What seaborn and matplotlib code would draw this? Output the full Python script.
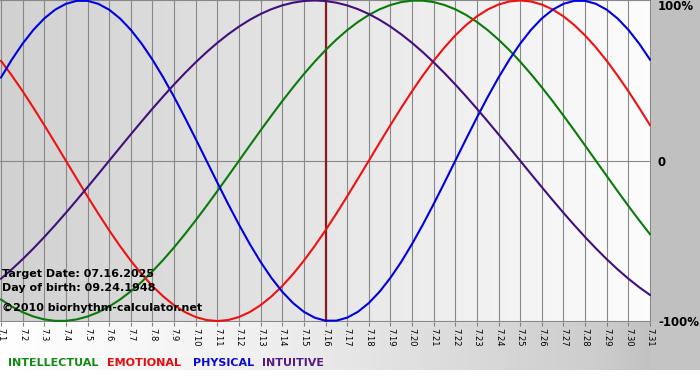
import numpy as np
import pandas as pd
import matplotlib
matplotlib.use("Agg")
import matplotlib.pyplot as plt
import seaborn as sns

# ---- data (half-day resolution) ----
days = list(range(1, 32))
day_labels = [f"7.{d}" for d in days]
half_days = [1 + 0.5 * i for i in range(61)]

physical = [0.5196, 0.6311, 0.7308, 0.8170, 0.8879, 0.9423, 0.9791, 0.9977, 0.9977, 0.9791,
            0.9423, 0.8879, 0.8170, 0.7308, 0.6311, 0.5196, 0.3984, 0.2698, 0.1362, 0.0,
            -0.1362, -0.2698, -0.3984, -0.5196, -0.6311, -0.7308, -0.8170, -0.8879, -0.9423, -0.9791,
            -0.9977, -0.9977, -0.9791, -0.9423, -0.8879, -0.8170, -0.7308, -0.6311, -0.5196, -0.3984,
            -0.2698, -0.1362, 0.0, 0.1362, 0.2698, 0.3984, 0.5196, 0.6311, 0.7308, 0.8170,
            0.8879, 0.9423, 0.9791, 0.9977, 0.9977, 0.9791, 0.9423, 0.8879, 0.8170, 0.7308, 0.6311]
emotional = [0.6235, 0.5320, 0.4339, 0.3303, 0.2225, 0.1120, 0.0, -0.1120, -0.2225, -0.3303,
             -0.4339, -0.5320, -0.6235, -0.7071, -0.7818, -0.8467, -0.9010, -0.9439, -0.9749, -0.9937,
             -1.0, -0.9937, -0.9749, -0.9439, -0.9010, -0.8467, -0.7818, -0.7071, -0.6235, -0.5320,
             -0.4339, -0.3303, -0.2225, -0.1120, 0.0, 0.1120, 0.2225, 0.3303, 0.4339, 0.5320,
             0.6235, 0.7071, 0.7818, 0.8467, 0.9010, 0.9439, 0.9749, 0.9937, 1.0, 0.9937,
             0.9749, 0.9439, 0.9010, 0.8467, 0.7818, 0.7071, 0.6235, 0.5320, 0.4339, 0.3303, 0.2225]
intellectual = [-0.8660, -0.9096, -0.9450, -0.9718, -0.9898, -0.9989, -0.9989, -0.9898, -0.9718, -0.9450,
                -0.9096, -0.8660, -0.8146, -0.7557, -0.6901, -0.6182, -0.5406, -0.4582, -0.3717, -0.2817,
                -0.1893, -0.0951, 0.0, 0.0951, 0.1893, 0.2817, 0.3717, 0.4582, 0.5406, 0.6182,
                0.6901, 0.7557, 0.8146, 0.8660, 0.9096, 0.9450, 0.9718, 0.9898, 0.9989, 0.9989,
                0.9898, 0.9718, 0.9450, 0.9096, 0.8660, 0.8146, 0.7557, 0.6901, 0.6182, 0.5406,
                0.4582, 0.3717, 0.2817, 0.1893, 0.0951, 0.0, -0.0951, -0.1893, -0.2817, -0.3717, -0.4582]
intuitive = [-0.7357, -0.6773, -0.6142, -0.5469, -0.4759, -0.4017, -0.3247, -0.2455, -0.1646, -0.0826,
             0.0, 0.0826, 0.1646, 0.2455, 0.3247, 0.4017, 0.4759, 0.5469, 0.6142, 0.6773,
             0.7357, 0.7891, 0.8372, 0.8794, 0.9158, 0.9458, 0.9694, 0.9864, 0.9966, 1.0,
             0.9966, 0.9864, 0.9694, 0.9458, 0.9158, 0.8794, 0.8372, 0.7891, 0.7357, 0.6773,
             0.6142, 0.5469, 0.4759, 0.4017, 0.3247, 0.2455, 0.1646, 0.0826, 0.0, -0.0826,
             -0.1646, -0.2455, -0.3247, -0.4017, -0.4759, -0.5469, -0.6142, -0.6773, -0.7357, -0.7891, -0.8372]

series_names = ["INTELLECTUAL", "EMOTIONAL", "PHYSICAL", "INTUITIVE"]
target_day = 16
y_ticks = [-1, 0, 1]
y_tick_labels = ["-100%", "0", "100%"]
info_lines = ["Target Date: 07.16.2025", "Day of birth: 09.24.1948", "\u00a92010 biorhythm-calculator.net"]

line_colors = {"INTELLECTUAL": "#0a7a0a", "EMOTIONAL": "#ee1111",
               "PHYSICAL": "#0000dd", "INTUITIVE": "#42107a"}
legend_colors = {"INTELLECTUAL": "#138a13", "EMOTIONAL": "#e80a0a",
                 "PHYSICAL": "#0a0ad0", "INTUITIVE": "#561a86"}

df = pd.concat([
    pd.DataFrame({"day": half_days, "value": vals, "series": name})
    for name, vals in zip(series_names, [intellectual, emotional, physical, intuitive])
], ignore_index=True)

W, H = 700, 380
fig = plt.figure(figsize=(W / 100, H / 100), dpi=100)
fig.patch.set_facecolor("white")

# background axes in pixel coordinates
bg = fig.add_axes([0, 0, 1, 1], zorder=-10)
bg.set_xlim(0, W)
bg.set_ylim(H, 0)
bg.axis("off")
bg.add_patch(plt.Rectangle((651, 0), W - 651, 370, color="#c0c0c0", lw=0))
xs = np.linspace(0, W, 300)
g = np.interp(xs, [0, 250, 651, 700], [1.0, 0.95, 0.80, 0.76])
strip = np.tile(g, (2, 1))
bg.imshow(np.dstack([strip] * 3), extent=(0, 651, 370, 322), aspect="auto", zorder=1)
bg.add_patch(plt.Rectangle((651, 322), W - 651, 48, color="#c4c4c4", lw=0, zorder=2))

# main axes
ax = fig.add_axes([0, 1 - 322 / H, 651 / W, 322 / H])
ax.patch.set_alpha(0)
scale = 649 / 30
x0 = 1 - 1 / scale
x1 = x0 + 651 / scale
ax.set_xlim(x0, x1)
ax.set_ylim(-1.006, 1.003)

grad = np.linspace(0.82, 0.99, 300)
gimg = np.tile(grad, (2, 1))
ax.imshow(np.dstack([gimg] * 3), extent=(x0, x1, -1.006, 1.003), aspect="auto", zorder=0)

ax.set_xticks(days)
ax.set_xticklabels(day_labels, rotation=270, fontsize=6, va="top", ha="center")
ax.set_yticks(y_ticks)
ax.set_yticklabels(y_tick_labels, fontsize=8.5, fontweight="bold")
ax.yaxis.tick_right()
ax.tick_params(axis="y", length=0, pad=5)
ax.tick_params(axis="x", length=3, width=0.8, color="#808080", pad=1)
for lab in ax.get_yticklabels():
    if lab.get_text() == "100%":
        lab.set_va("top")
ax.grid(True, color="#888888", linewidth=0.8, zorder=1)
ax.set_axisbelow(True)
for s in ax.spines.values():
    s.set_visible(False)

ax.axvline(target_day, color="#8b1c1c", linewidth=1.6, zorder=2)

sns.lineplot(data=df, x="day", y="value", hue="series", palette=line_colors,
             hue_order=series_names, linewidth=1.5, legend=False, ax=ax, zorder=3)
ax.set_xlabel("")
ax.set_ylabel("")

def px(x, y):
    return x / W, 1 - y / H

# info text (drawn above the axes)
for txt, yb in zip(info_lines, [277, 291, 311]):
    fig.text(*px(2, yb), txt, fontsize=8, fontweight="bold", color="black",
             va="baseline", ha="left", zorder=10)

# colored legend row
for name, xp in zip(series_names, [8, 107, 193, 262]):
    fig.text(*px(xp, 366), name, fontsize=8, fontweight="bold", color=legend_colors[name],
             va="baseline", ha="left", zorder=10)

fig.savefig("out.png", dpi=100)
